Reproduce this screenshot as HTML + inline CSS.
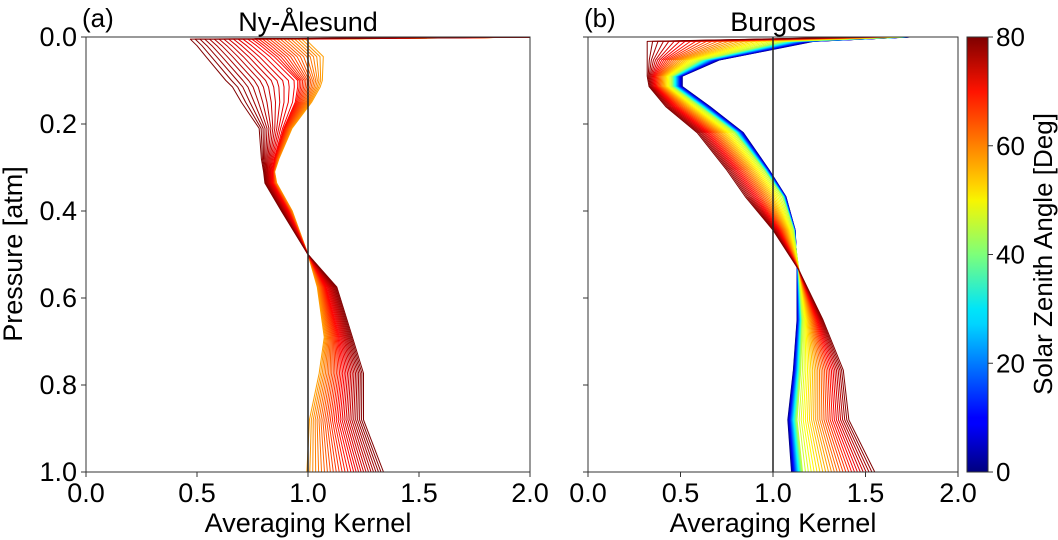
<!DOCTYPE html>
<html><head><meta charset="utf-8">
<style>
html,body{margin:0;padding:0;background:#fff;}
svg{display:block;font-family:"Liberation Sans","DejaVu Sans",sans-serif;}
</style></head>
<body>
<svg id="fig" width="1058" height="540" viewBox="0 0 1058 540">
<defs>
<linearGradient id="jet" x1="0" y1="1" x2="0" y2="0">
<stop offset="0" stop-color="#00007f"/><stop offset="0.11" stop-color="#0000ff"/>
<stop offset="0.125" stop-color="#0000ff"/><stop offset="0.34" stop-color="#00d4ff"/>
<stop offset="0.375" stop-color="#00e5f8"/><stop offset="0.5" stop-color="#7dff7a"/>
<stop offset="0.625" stop-color="#f8f500"/><stop offset="0.66" stop-color="#ffd200"/>
<stop offset="0.875" stop-color="#ff1300"/><stop offset="1" stop-color="#7f0000"/>
</linearGradient>
<clipPath id="clipA"><rect x="86" y="37" width="444" height="435"/></clipPath>
<clipPath id="clipB"><rect x="588" y="37" width="370" height="435"/></clipPath>
</defs>
<g id="panelA"></g>
<g id="panelB"></g>
<g id="cbar"></g>
</svg>
<script>
// Panel (a) Ny-Ålesund data
const pressA = [0,0.005,0.02,0.045,0.1,0.115,0.15,0.21,0.28,0.31,0.336,0.4,0.5,0.575,0.69,0.773,0.88,1.0];
const akA_sza57 = [2.1,1.0,1.03,1.08,1.07,1.06,1.02,0.93,0.87,0.85,0.86,0.93,1.0,1.04,1.07,1.045,1.0,0.985];
const akA_sza70 = [2.1,0.74,0.78,0.84,0.95,0.95,0.94,0.89,0.85,0.84,0.84,0.91,1.0,1.08,1.14,1.16,1.14,1.20];
const akA_sza80 = [2.1,0.47,0.50,0.54,0.63,0.66,0.70,0.78,0.79,0.80,0.806,0.88,1.0,1.13,1.20,1.25,1.25,1.34];
const szaA = [57,70,80];
// Panel (b) Burgos data
const pressB = [0,0.01,0.053,0.09,0.114,0.16,0.22,0.306,0.367,0.444,0.536,0.65,0.766,0.88,1.0];
const akB_sza0  = [1.74,1.22,0.71,0.51,0.51,0.66,0.84,0.98,1.07,1.12,1.13,1.13,1.11,1.08,1.10];
const akB_sza45 = [1.7,1.05,0.60,0.45,0.45,0.60,0.79,0.95,1.05,1.11,1.14,1.16,1.15,1.13,1.16];
const akB_sza80 = [1.5,0.32,0.32,0.32,0.33,0.42,0.59,0.75,0.85,1.0,1.14,1.27,1.38,1.41,1.55];
const szaB = [0,45,80];
const xTicks = [0,0.5,1.0,1.5,2.0];
const xTickLabels = ["0.0","0.5","1.0","1.5","2.0"];
const yTicks = [0,0.2,0.4,0.6,0.8,1.0];
const yTickLabels = ["0.0","0.2","0.4","0.6","0.8","1.0"];
const cbTicks = [0,20,40,60,80];

const NS="http://www.w3.org/2000/svg";
function mk(tag,attrs,parent){const e=document.createElementNS(NS,tag);for(const k in attrs)e.setAttribute(k,attrs[k]);parent.appendChild(e);return e;}
function jet(t){const c=v=>Math.max(0,Math.min(1,v));
 const r=c(1.5-Math.abs(4*t-3)),g=c(1.5-Math.abs(4*t-2)),b=c(1.5-Math.abs(4*t-1));
 return `rgb(${Math.round(r*255)},${Math.round(g*255)},${Math.round(b*255)})`;}
const Y0=37,Y1=472;
function yS(p){return Y0+p*(Y1-Y0);}

function drawPanel(g,x0,x1,clip,press,anchors,szas,step,title,tag,showY){
 const xS=v=>x0+v/2*(x1-x0);
 const lines=mk('g',{'clip-path':`url(#${clip})`},g);
 
 
 const smin=szas[0],smax=szas[szas.length-1];
 const list=[];
 for(let s=smax;s>=smin-1e-9;s-=step)list.push(s);
 list.reverse();
 for(const s of list){
  let k=0;while(k<szas.length-2&&s>szas[k+1])k++;
  const f=(s-szas[k])/(szas[k+1]-szas[k]);
  const pts=press.map((p,i)=>{const v=anchors[k][i]*(1-f)+anchors[k+1][i]*f;return xS(v).toFixed(2)+','+yS(p).toFixed(2);});
  const pl=mk('polyline',{points:pts.join(' '),fill:'none',stroke:jet(s/80),'stroke-width':1,'stroke-linejoin':'round'},lines);
  
  
 }
 const ref=mk('line',{x1:xS(1),x2:xS(1),y1:Y0,y2:Y1,stroke:'#222','stroke-width':1.5},g);
 
 
 const fr=mk('rect',{x:x0,y:Y0,width:x1-x0,height:Y1-Y0,fill:'none',stroke:'#333','stroke-width':1},g);
 
 
 xTicks.forEach((t,i)=>{
  const tk=mk('line',{x1:xS(t),x2:xS(t),y1:Y1,y2:Y1+5,stroke:'#333'},g);
  
  
  const tl=mk('text',{x:xS(t),y:Y1+30,'text-anchor':'middle','font-size':27},g);tl.textContent=xTickLabels[i];
  
  
 });
 yTicks.forEach((t,i)=>{
  const tk=mk('line',{x1:x0-5,x2:x0,y1:yS(t),y2:yS(t),stroke:'#333'},g);
  
  
  if(showY){const tl=mk('text',{x:x0-9,y:yS(t)+9,'text-anchor':'end','font-size':27},g);tl.textContent=yTickLabels[i];
  
  }
 });
 const xt=mk('text',{x:(x0+x1)/2,y:532,'text-anchor':'middle','font-size':27},g);xt.textContent='Averaging Kernel';
 
 
 const tt=mk('text',{x:(x0+x1)/2,y:31,'text-anchor':'middle','font-size':27},g);tt.textContent=title;
 
 
 const tg=mk('text',{x:x0-4,y:27,'font-size':26},g);tg.textContent=tag;
 
 
}
const gA=document.getElementById('panelA'),gB=document.getElementById('panelB');
drawPanel(gA,86,530,'clipA',pressA,[akA_sza57,akA_sza70,akA_sza80],szaA,0.8,'Ny-Ålesund','(a)',true);
drawPanel(gB,588,958,'clipB',pressB,[akB_sza0,akB_sza45,akB_sza80],szaB,1.4,'Burgos','(b)',false);
const yt=mk('text',{x:0,y:0,'text-anchor':'middle','font-size':27,transform:'translate(22,254) rotate(-90)'},gA);yt.textContent='Pressure [atm]';


// colorbar
const cb=document.getElementById('cbar');
const cbr=mk('rect',{x:967,y:Y0,width:21,height:Y1-Y0,fill:'url(#jet)',stroke:'#333','stroke-width':1},cb);


cbTicks.forEach(t=>{
 const y=Y1-t/80*(Y1-Y0);
 const tk=mk('line',{x1:988,x2:993,y1:y,y2:y,stroke:'#333'},cb);
 
 
 const tl=mk('text',{x:996,y:y+9,'font-size':26},cb);tl.textContent=String(t);
 
 
});
const ct=mk('text',{x:0,y:0,'text-anchor':'middle','font-size':26,transform:'translate(1052,254) rotate(-90)'},cb);ct.textContent='Solar Zenith Angle [Deg]';


</script>
</body></html>
